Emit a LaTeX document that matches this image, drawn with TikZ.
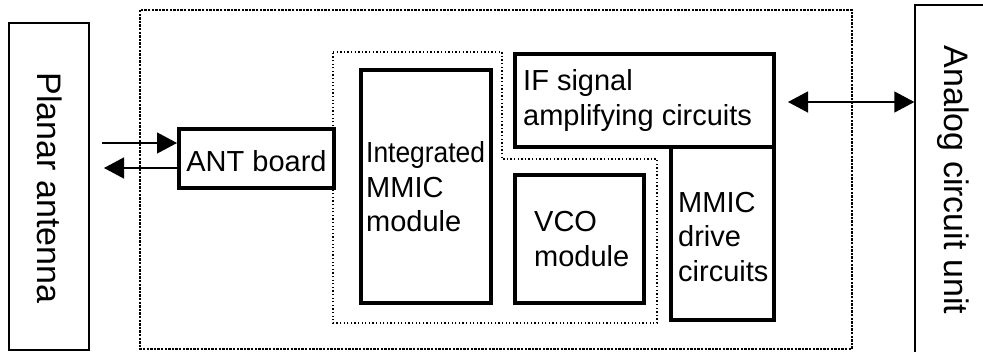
\documentclass[tikz,border=0pt]{standalone}
\usepackage{fontspec}
\setmainfont{Liberation Sans}
\usetikzlibrary{arrows.meta}
\begin{document}
\begin{tikzpicture}[x=1pt,y=-1pt,
  thickbox/.style={draw,line width=4pt,inner sep=0pt,minimum width=#1},
  thinbox/.style={draw,line width=1.3pt,inner sep=0pt},
  lbl/.style={inner sep=0pt,align=left,anchor=west,font=\fontsize{29}{34.5}\selectfont},
  vlbl/.style={inner sep=0pt,rotate=-90,font=\fontsize{34}{40}\selectfont},
  conn/.style={line width=1.3pt,-{Triangle[length=20pt,width=21pt]}},
  dconn/.style={line width=1.3pt,{Triangle[length=20pt,width=21pt]}-{Triangle[length=20pt,width=21pt]}}]
\clip (0,0) rectangle (983,351);
\useasboundingbox (0,0) rectangle (983,351);
% outer dotted frame
\draw[line width=2.4pt,dash pattern=on 2.4pt off 1.2pt] (140,10) rectangle (852,349);
% inner dotted region
\draw[line width=1.3pt,dash pattern=on 1.3pt off 2.3pt]
  (333,52) -- (502,52) -- (502,159) -- (657,159) -- (657,323) -- (333,323) -- cycle;
% side units
\node[thinbox,minimum width=80pt,minimum height=327pt] (pa) at (49,186.5) {};
\node[vlbl] (patext) at (50,188) {Planar antenna};
\node[thinbox,minimum width=90pt,minimum height=360pt] (acu) at (960,185) {};
\node[vlbl] (acutext) at (953,180) {Analog circuit unit};
% boxes
\node[thickbox=155pt,minimum height=59pt] (ant) at (256.5,158.5) {};
\node[inner sep=0pt,font=\fontsize{29}{34.5}\selectfont] (anttext) at (256.5,161.5) {ANT board};
\node[thickbox=130pt,minimum height=233pt] (mmic) at (426,186.5) {};
\node[lbl] (mmictext) at (366,187) {\scalebox{0.91}[1]{Integrated}\\MMIC\\module};
\node[thickbox=259pt,minimum height=93pt] (ifa) at (644.5,100.5) {};
\node[lbl] (ifatext) at (523,100.5) {IF signal\\amplifying circuits};
\node[thickbox=129pt,minimum height=128pt] (vco) at (579.5,239) {};
\node[lbl] (vcotext) at (534,239) {VCO\\module};
\node[thickbox=103pt,minimum height=173pt] (drv) at (722.5,233.5) {};
\node[lbl] (drvtext) at (678,237) {MMIC\\drive\\circuits};
% connectors
\coordinate (ain) at (102,143);
\coordinate (aout) at (104,168);
\coordinate (ifend) at (788,102);
\draw[conn] (ain) -- (ain -| ant.west);
\draw[conn] (aout -| ant.west) -- (aout);
\draw[dconn] (ifend) -- (ifend -| acu.west);
\end{tikzpicture}
\end{document}
